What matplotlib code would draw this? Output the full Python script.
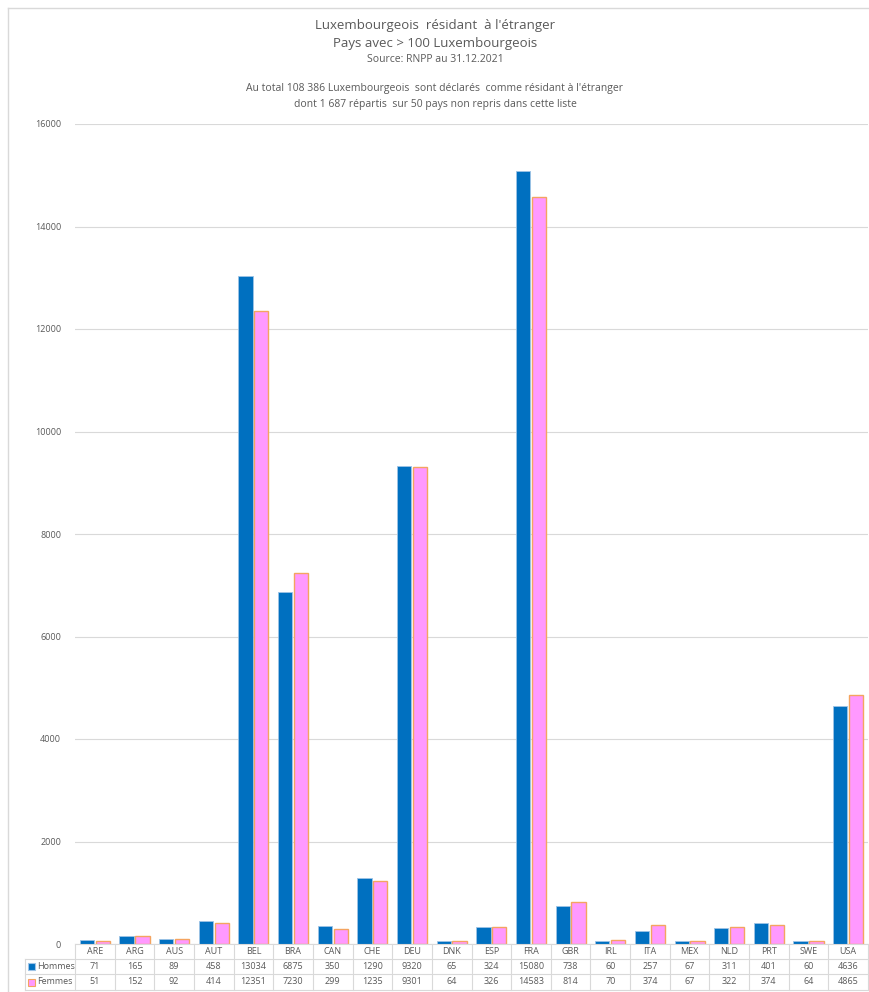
import matplotlib
matplotlib.use("Agg")
import matplotlib.pyplot as plt
import matplotlib.transforms as mtransforms
from matplotlib.patches import Rectangle
from matplotlib.lines import Line2D
import numpy as np

countries = ["ARE", "ARG", "AUS", "AUT", "BEL", "BRA", "CAN", "CHE", "DEU", "DNK", "ESP",
             "FRA", "GBR", "IRL", "ITA", "MEX", "NLD", "PRT", "SWE", "USA"]
hommes = [71, 165, 89, 458, 13034, 6875, 350, 1290, 9320, 65, 324,
          15080, 738, 60, 257, 67, 311, 401, 60, 4636]
femmes = [51, 152, 92, 414, 12351, 7230, 299, 1235, 9301, 64, 326,
          14583, 814, 70, 374, 67, 322, 374, 64, 4865]
series_names = ["Hommes", "Femmes"]
yticks = [0, 2000, 4000, 6000, 8000, 10000, 12000, 14000, 16000]

plt.rcParams['font.family'] = ['Open Sans', 'DejaVu Sans']
txt = "#595959"
grid = "#D9D9D9"
blue = "#0070C0"
pink = "#FF99FF"
orange = "#F4A460"

W, H = 870, 992
fig = plt.figure(figsize=(W / 100, H / 100), dpi=100)

def fx(px):
    return px / W

def fy(py):
    return 1 - py / H

ax_l, ax_r, ax_t, ax_b = 75, 868, 124, 944
ax = fig.add_axes([fx(ax_l), fy(ax_b), fx(ax_r - ax_l), (ax_b - ax_t) / H])

n = len(countries)
x = np.arange(n)
bw = 0.36
ax.bar(x - bw / 2 - 0.02, hommes, bw, color=blue, edgecolor="#9DC3E6", linewidth=0.6, zorder=3)
ax.bar(x + bw / 2 + 0.02, femmes, bw, color=pink, edgecolor=orange, linewidth=1.0, zorder=3)

ax.set_xlim(-0.5, n - 0.5)
ax.set_ylim(0, 16000)
ax.set_yticks(yticks)
ax.set_yticklabels([str(v) for v in yticks], fontsize=6.5, color=txt)
ax.tick_params(axis='y', length=0, pad=10)
ax.tick_params(axis='x', length=0, labelbottom=False)
ax.grid(axis='y', color=grid, linewidth=0.8, zorder=0)
for s in ax.spines.values():
    s.set_visible(False)

# Titles
fig.text(0.5, fy(25), "Luxembourgeois  résidant  à l'étranger", ha='center', va='center', fontsize=9.5, color=txt)
fig.text(0.5, fy(44), "Pays avec > 100 Luxembourgeois", ha='center', va='center', fontsize=9.5, color=txt)
fig.text(0.5, fy(60), "Source: RNPP au 31.12.2021", ha='center', va='center', fontsize=7.5, color=txt)
fig.text(0.5, fy(89), "Au total 108 386 Luxembourgeois  sont déclarés  comme résidant à l'étranger",
         ha='center', va='center', fontsize=7.5, color=txt)
fig.text(0.5, fy(104), "dont 1 687 répartis  sur 50 pays non repris dans cette liste",
         ha='center', va='center', fontsize=7.5, color=txt)

# Outer chart border (top and left visible)
fig.add_artist(Line2D([fx(8), 1.0], [fy(8)] * 2, transform=fig.transFigure, color=grid, lw=1.0))
fig.add_artist(Line2D([fx(8)] * 2, [fy(8), 0.0], transform=fig.transFigure, color=grid, lw=1.0))

# Data table
trans = mtransforms.blended_transform_factory(ax.transData, fig.transFigure)
rows_y = [944, 959, 974, 990]
tbl_left_px = 25
lc = "#D9D9D9"
fig.add_artist(Line2D([-0.5, n - 0.5], [fy(rows_y[0])] * 2, transform=trans, color=lc, lw=0.8))
for ry in rows_y[1:]:
    fig.add_artist(Line2D([fx(tbl_left_px), fx(ax_r)], [fy(ry)] * 2, transform=fig.transFigure, color=lc, lw=0.8))
for b in np.arange(n + 1) - 0.5:
    fig.add_artist(Line2D([b, b], [fy(rows_y[0]), fy(rows_y[-1])], transform=trans, color=lc, lw=0.8))
fig.add_artist(Line2D([fx(tbl_left_px)] * 2, [fy(rows_y[1]), fy(rows_y[-1])], transform=fig.transFigure, color=lc, lw=0.8))

for i, c in enumerate(countries):
    fig.text(i, fy((rows_y[0] + rows_y[1]) / 2), c, transform=trans, ha='center', va='center', fontsize=6.5, color=txt)
    fig.text(i, fy((rows_y[1] + rows_y[2]) / 2), str(hommes[i]), transform=trans, ha='center', va='center', fontsize=6.5, color=txt)
    fig.text(i, fy((rows_y[2] + rows_y[3]) / 2), str(femmes[i]), transform=trans, ha='center', va='center', fontsize=6.5, color=txt)

for (ry0, ry1), name, fc, ec in [((rows_y[1], rows_y[2]), series_names[0], blue, "#9DC3E6"),
                                  ((rows_y[2], rows_y[3]), series_names[1], pink, orange)]:
    cy = (ry0 + ry1) / 2
    fig.add_artist(Rectangle((fx(28), fy(cy + 3.5)), fx(7), 7 / H, transform=fig.transFigure,
                             facecolor=fc, edgecolor=ec, linewidth=0.8))
    fig.text(fx(37), fy(cy), name, ha='left', va='center', fontsize=6.5, color=txt)

fig.savefig("out.png", dpi=100, facecolor="white")
